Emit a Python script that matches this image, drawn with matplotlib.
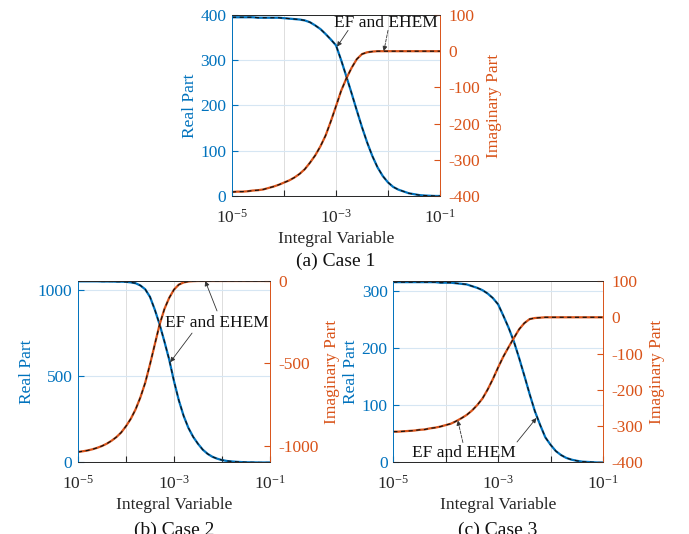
import matplotlib
matplotlib.use("Agg")
import matplotlib.pyplot as plt
import numpy as np
from matplotlib.ticker import FixedLocator, FixedFormatter, LogLocator, NullFormatter

plt.rcParams['font.family'] = ['Liberation Serif', 'DejaVu Serif']
plt.rcParams['mathtext.fontset'] = 'stix'
plt.rcParams['axes.unicode_minus'] = False

BLUE = '#0072BD'
ORANGE = '#D95319'

# integral variable, log10 steps of 0.1 from 1e-5 to 1e-1
log_x = [-5.0, -4.9, -4.8, -4.7, -4.6, -4.5, -4.4, -4.3, -4.2, -4.1,
         -4.0, -3.9, -3.8, -3.7, -3.6, -3.5, -3.4, -3.3, -3.2, -3.1,
         -3.0, -2.9, -2.8, -2.7, -2.6, -2.5, -2.4, -2.3, -2.2, -2.1,
         -2.0, -1.9, -1.8, -1.7, -1.6, -1.5, -1.4, -1.3, -1.2, -1.1, -1.0]

# case 1
real_1 = [395, 395, 395, 395, 395, 394, 394, 394, 394, 394,
          393, 392, 391, 390, 388, 384, 377, 369, 358, 346,
          333, 300, 264, 227, 189, 152, 118, 88, 63, 44,
          30, 20, 14, 10, 6, 4, 2, 1, 0.5, 0, 0]
imag_1 = [-389, -388, -388, -387, -385, -384, -382, -378, -374, -369,
          -363, -357, -349, -339, -326, -308, -288, -263, -233, -194,
          -152, -109, -75, -46, -22, -8, -3, -1, 0, 0,
          0, 0, 0, 0, 0, 0, 0, 0, 0, 0, 0]

# case 2
real_2 = [1048, 1048, 1048, 1048, 1048, 1047, 1047, 1047, 1046, 1046,
          1045, 1042, 1037, 1024, 1002, 958, 884, 799, 700, 595,
          470, 360, 270, 200, 148, 108, 74, 50, 33, 22,
          14, 9, 6, 4, 2.5, 1.5, 1, 0.5, 0, 0, 0]
imag_2 = [-1036, -1032, -1027, -1020, -1011, -1000, -986, -968, -946, -918,
          -880, -835, -778, -705, -617, -505, -384, -264, -170, -102,
          -52, -22, -9, -3, -1, 0, 0, 0, 0, 0,
          0, 0, 0, 0, 0, 0, 0, 0, 0, 0, 0]

# case 3
real_3 = [316, 316, 316, 316, 316, 316, 316, 316, 316, 315,
          315, 315, 314, 313, 312, 309, 306, 302, 296, 288,
          277, 257, 236, 212, 183, 152, 120, 90, 66, 44,
          31, 20, 13, 8, 5, 3, 1.5, 1, 0.5, 0, 0]
imag_3 = [-315, -315, -314, -313, -312, -310, -309, -306, -304, -301,
          -297, -293, -286, -278, -269, -257, -242, -224, -199, -170,
          -138, -108, -82, -57, -33, -16, -5, -2, -1, 0,
          0, 0, 0, 0, 0, 0, 0, 0, 0, 0, 0]

xticks = [1e-5, 1e-4, 1e-3, 1e-2, 1e-1]
xticklabels = [r'$\mathregular{10^{-5}}$', '', r'$\mathregular{10^{-3}}$', '',
               r'$\mathregular{10^{-1}}$']

FS = 12.5
x = np.power(10.0, log_x)

fig = plt.figure(figsize=(6.89, 5.34), dpi=100)


def panel(rect, real, imag, ylim_l, yticks_l, ylim_r, yticks_r, caption):
    ax = fig.add_axes(rect)
    ax.set_xscale('log')
    ax.set_xlim(1e-5, 1e-1)
    ax.set_ylim(*ylim_l)
    ax.set_yticks(yticks_l)
    ax.xaxis.set_major_locator(FixedLocator(xticks))
    ax.xaxis.set_major_formatter(FixedFormatter(xticklabels))
    ax.xaxis.set_minor_locator(LogLocator(base=10, subs=np.arange(2, 10)))
    ax.xaxis.set_minor_formatter(NullFormatter())
    ax.grid(True, which='major', axis='y', color='#d6e6f3', lw=0.8)
    ax.grid(True, which='major', axis='x', color='#dddddd', lw=0.7)
    ax.grid(True, which='minor', axis='x', color='#cccccc', lw=0.6, ls=':')
    ax.set_axisbelow(True)

    ax.plot(x, real, color=BLUE, lw=1.6)
    ax.plot(x, real, color='#111111', lw=0.85, ls=(0, (3.5, 3)))

    ax.tick_params(axis='both', which='both', direction='in', labelsize=FS)
    ax.tick_params(axis='x', which='major', length=4, pad=9, colors='#262626')
    ax.tick_params(axis='x', which='minor', length=2, colors='#262626')
    ax.tick_params(axis='y', length=4, colors=BLUE, labelcolor=BLUE, pad=4)
    ax.set_ylabel('Real Part', color=BLUE, fontsize=FS, labelpad=2)
    ax.set_xlabel('Integral Variable', fontsize=FS, color='#262626', labelpad=3)

    ax2 = ax.twinx()
    ax2.set_ylim(*ylim_r)
    ax2.set_yticks(yticks_r)
    ax2.plot(x, imag, color=ORANGE, lw=1.6)
    ax2.plot(x, imag, color='#111111', lw=0.85, ls=(0, (3.5, 3)))
    ax2.tick_params(axis='y', direction='in', length=4, colors=ORANGE,
                    labelcolor=ORANGE, labelsize=FS, pad=6)
    ax2.set_ylabel('Imaginary Part', color=ORANGE, fontsize=FS, labelpad=4)

    for a in (ax, ax2):
        a.spines['top'].set_color('#262626')
        a.spines['bottom'].set_color('#262626')
        a.spines['left'].set_color(BLUE)
        a.spines['right'].set_color(ORANGE)
        for s in a.spines.values():
            s.set_linewidth(0.6)

    bb = ax.get_position()
    fig.text((bb.x0 + bb.x1) / 2, caption[1], caption[0], ha='center',
             va='center', fontsize=14, color='#111111')
    return ax, ax2


arrow = dict(arrowstyle='-|>', color='#333333', lw=0.6, mutation_scale=7,
             shrinkA=0, shrinkB=0)
arrow_d = dict(arrow, ls='--')

# (a) Case 1
ax, ax2 = panel([0.3367, 0.633, 0.3019, 0.3389], real_1, imag_1,
                (0, 400), [0, 100, 200, 300, 400],
                (-400, 100), [-400, -300, -200, -100, 0, 100],
                ('(a) Case 1', 1 - 261 / 534))
ax2.text(0.74, 0.956, 'EF and EHEM', transform=ax2.transAxes, ha='center',
         va='center', fontsize=FS, color='#111111')
ax.annotate('', xy=(10 ** -2.98, 330), xytext=(0.558, 0.915),
            textcoords='axes fraction', arrowprops=arrow)
ax2.annotate('', xy=(10 ** -2.08, 0), xytext=(0.75, 0.915),
             textcoords='axes fraction', arrowprops=arrow_d)

# (b) Case 2
ax, ax2 = panel([0.1132, 0.1339, 0.2787, 0.3399], real_2, imag_2,
                (0, 1050), [0, 500, 1000],
                (-1100, 0), [-1000, -500, 0],
                ('(b) Case 2', 1 - 530 / 534))
ax2.text(0.724, 0.769, 'EF and EHEM', transform=ax2.transAxes, ha='center',
         va='center', fontsize=FS, color='#111111')
ax2.annotate('', xy=(10 ** -2.35, 0), xytext=(0.724, 0.835),
             textcoords='axes fraction', arrowprops=arrow)
ax.annotate('', xy=(10 ** -3.08, 580), xytext=(0.594, 0.713),
            textcoords='axes fraction', arrowprops=arrow)

# (c) Case 3
ax, ax2 = panel([0.5708, 0.1339, 0.3044, 0.3399], real_3, imag_3,
                (0, 318), [0, 100, 200, 300],
                (-400, 100), [-400, -300, -200, -100, 0, 100],
                ('(c) Case 3', 1 - 530 / 534))
ax2.text(0.335, 0.054, 'EF and EHEM', transform=ax2.transAxes, ha='center',
         va='center', fontsize=FS, color='#111111')
ax2.annotate('', xy=(10 ** -3.77, -284), xytext=(0.332, 0.11),
             textcoords='axes fraction', arrowprops=arrow_d)
ax.annotate('', xy=(10 ** -2.27, 78), xytext=(0.59, 0.113),
            textcoords='axes fraction', arrowprops=arrow)

fig.savefig('out.png', dpi=100)
